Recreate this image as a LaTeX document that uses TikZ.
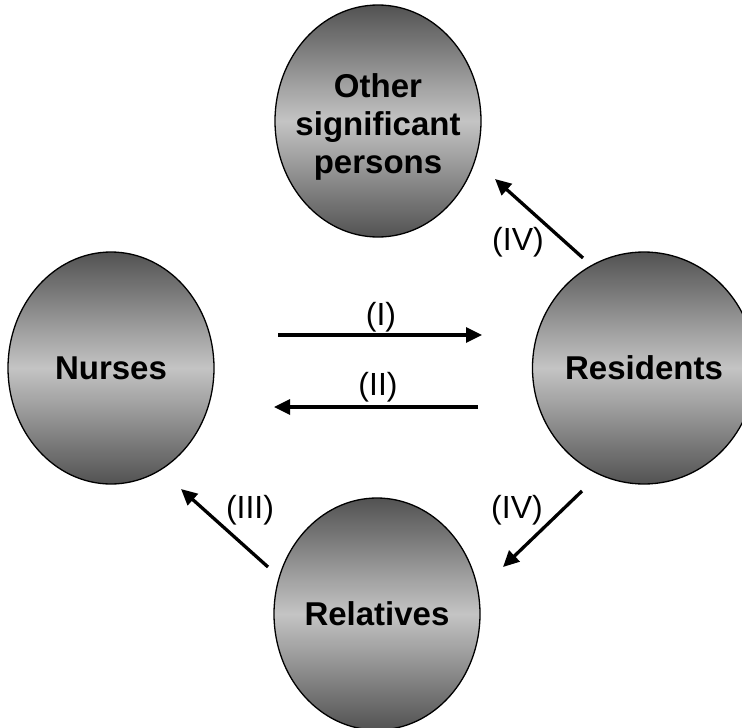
\documentclass[tikz,border=0pt]{standalone}
\usepackage{fontspec}
\setmainfont{Liberation Sans}
\usetikzlibrary{shapes.geometric,arrows.meta}
\definecolor{darkg}{RGB}{82,82,82}
\definecolor{lightg}{RGB}{196,196,196}
\tikzset{
  party/.style={ellipse, draw=black, line width=1.3pt, minimum width=206pt, minimum height=232pt,
    inner sep=0pt, top color=darkg, bottom color=darkg, middle color=lightg,
    font=\fontsize{33}{38}\selectfont\bfseries, align=center},
  ptext/.style={font=\fontsize{33}{38}\selectfont\bfseries, align=center, inner sep=0pt},
  flow/.style={line width=3.3pt, -{Triangle[length=16pt,width=15pt]}},
  lbl/.style={font=\fontsize{32}{36}\selectfont, inner sep=0pt}
}
\begin{document}
\begin{tikzpicture}[x=1pt,y=-1pt]
\useasboundingbox (0,0) rectangle (742,728);
\node[party] (other) at (378,121) {};
\node[ptext] (othertext) at (378,127) {Other\\significant\\persons};
\node[party] (nurses) at (111,368) {Nurses};
\node[party] (residents) at (644,368) {Residents};
\node[party] (relatives) at (377,614) {Relatives};

\coordinate (i1) at (278,335); \coordinate (i2) at (482,335);
\coordinate (ii1) at (478,407); \coordinate (ii2) at (274,407);
\coordinate (iva1) at (583,258); \coordinate (iva2) at (495,179);
\coordinate (ivb1) at (582,491); \coordinate (ivb2) at (503,567);
\coordinate (iii1) at (268,567); \coordinate (iii2) at (181,489);

\draw[flow] (i1) -- (i2);
\draw[flow] (ii1) -- (ii2);
\draw[flow] (iva1) -- (iva2);
\draw[flow] (ivb1) -- (ivb2);
\draw[flow] (iii1) -- (iii2);

\node[lbl] (li) at (381,317) {(I)};
\node[lbl] (lii) at (378,387) {(II)};
\node[lbl] (liva) at (518,242) {(IV)};
\node[lbl] (livb) at (517,510) {(IV)};
\node[lbl] (liii) at (250,510) {(III)};
\end{tikzpicture}
\end{document}
